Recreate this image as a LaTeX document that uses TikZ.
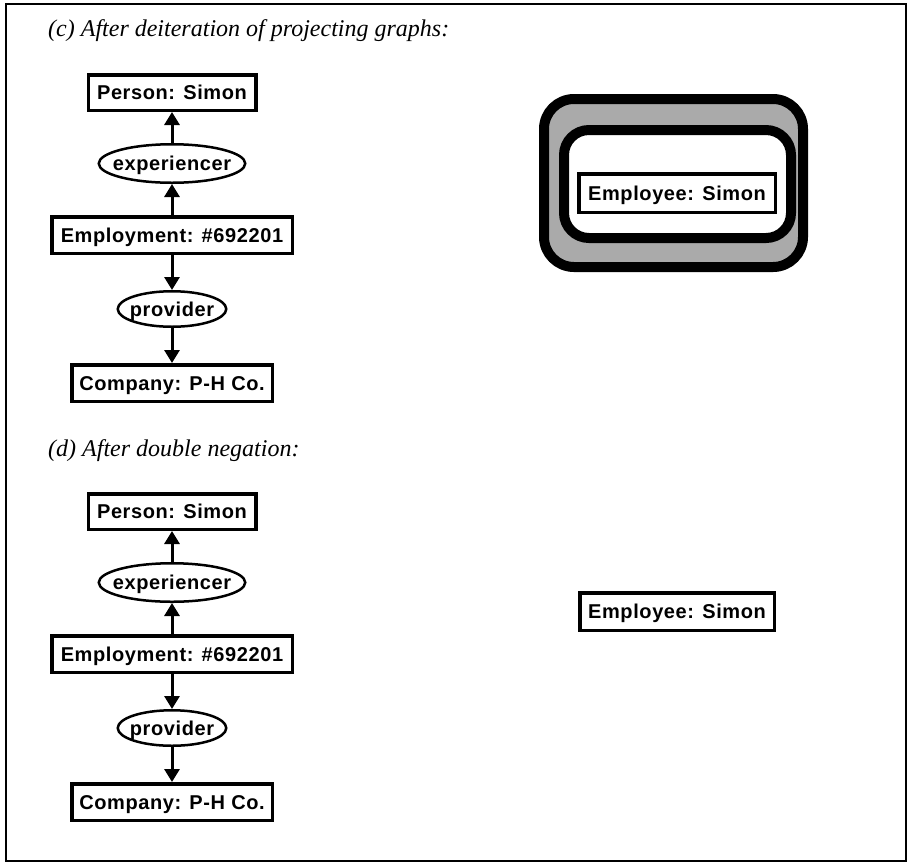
\documentclass[tikz,border=0pt]{standalone}
\usepackage{fontspec}
\setmainfont{Liberation Serif}
\newfontfamily\labfont[LetterSpace=3]{Liberation Sans Bold}
\usetikzlibrary{shapes.geometric,arrows.meta}
\definecolor{neggray}{RGB}{170,170,170}
\begin{document}
\begin{tikzpicture}[x=1pt,y=-1pt,
  labtext/.style={font=\labfont\fontsize{20}{24}\selectfont,text height=14.3pt,text depth=0pt},
  cbox/.style={draw,line width=3.5pt,fill=white,inner sep=0pt,labtext},
  rel/.style={draw,ellipse,line width=2.5pt,fill=white,inner sep=0pt},
  lbl/.style={inner sep=0pt,labtext},
  arr/.style={line width=3pt,-{Triangle[width=15pt,length=13pt]}},
  ttl/.style={anchor=base west,inner sep=0pt,font=\itshape\fontsize{24}{28}\selectfont},
  negctx/.style={draw,line width=10pt,inner sep=0pt}
]
\useasboundingbox (0,0) rectangle (910,863);
\draw[line width=2pt] (6,4) rectangle (906,861);

% ---------- (c) ----------
\node[ttl] (tc) at (48,36.5) {(c) After deiteration of projecting graphs:};

\node[cbox,minimum width=167.5pt,minimum height=35.5pt] (p1) at (172,92.5) {Person: Simon};
\node[rel,minimum width=146.5pt,minimum height=38.5pt] (x1) at (172,163.5) {};
\node[lbl] (x1t) at (x1.center) {experiencer};
\node[cbox,minimum width=240.5pt,minimum height=36.5pt] (e1) at (172,235) {Employment: \#692201};
\node[rel,minimum width=108.5pt,minimum height=35.5pt] (v1) at (172,309) {};
\node[lbl] (v1t) at (v1.center) {provider};
\node[cbox,minimum width=200.5pt,minimum height=36.5pt] (c1) at (172,383) {Company: P-H Co.};

\draw[arr] (e1) -- (x1);
\draw[arr] (x1) -- (p1);
\draw[arr] (e1) -- (v1);
\draw[arr] (v1) -- (c1);

\node[negctx,fill=neggray,rounded corners=30pt,minimum width=259pt,minimum height=168pt] (n1) at (673.5,183) {};
\node[negctx,fill=white,rounded corners=25pt,minimum width=227pt,minimum height=108pt] (n2) at (677.5,184) {};
\node[cbox,minimum width=196.5pt,minimum height=38.5pt] (s1) at (677,193) {Employee: Simon};

% ---------- (d) ----------
\node[ttl] (td) at (48,456) {(d) After double negation:};

\node[cbox,minimum width=167.5pt,minimum height=35.5pt] (p2) at (172,511.5) {Person: Simon};
\node[rel,minimum width=146.5pt,minimum height=38.5pt] (x2) at (172,582.5) {};
\node[lbl] (x2t) at (x2.center) {experiencer};
\node[cbox,minimum width=240.5pt,minimum height=36.5pt] (e2) at (172,654) {Employment: \#692201};
\node[rel,minimum width=108.5pt,minimum height=35.5pt] (v2) at (172,728) {};
\node[lbl] (v2t) at (v2.center) {provider};
\node[cbox,minimum width=200.5pt,minimum height=36.5pt] (c2) at (172,802) {Company: P-H Co.};

\draw[arr] (e2) -- (x2);
\draw[arr] (x2) -- (p2);
\draw[arr] (e2) -- (v2);
\draw[arr] (v2) -- (c2);

\node[cbox,minimum width=194.5pt,minimum height=37.5pt] (s2) at (677,611.5) {Employee: Simon};
\end{tikzpicture}
\end{document}
